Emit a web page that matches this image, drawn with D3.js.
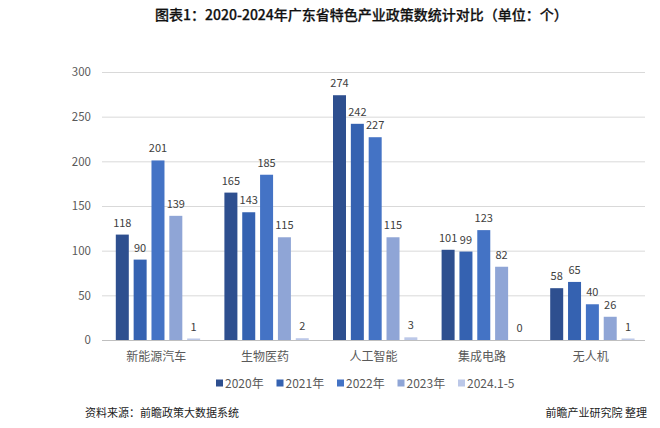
<!DOCTYPE html>
<html><head><meta charset="utf-8">
<script src="https://cdn.jsdelivr.net/npm/d3@7"></script>
<style>html,body{margin:0;padding:0;background:#fff;}svg{display:block;}</style>
</head><body>
<svg id="c" width="660" height="428"></svg>
<script>
const categories = ["新能源汽车","生物医药","人工智能","集成电路","无人机"];
const seriesNames = ["2020年","2021年","2022年","2023年","2024.1-5"];
const v2020 = [118,165,274,101,58];
const v2021 = [90,143,242,99,65];
const v2022 = [201,185,227,123,40];
const v2023 = [139,115,115,82,26];
const v2024 = [1,2,3,0,1];
const yTicks = [0,50,100,150,200,250,300];
const colors = ["#2E4F8F","#3562B1","#4473C5","#8FA5D6","#BCC8E8"];
const title = "图表1：2020-2024年广东省特色产业政策数统计对比（单位：个）";
const source = "资料来源：前瞻政策大数据系统";
const credit = "前瞻产业研究院 整理";

const series = [v2020,v2021,v2022,v2023,v2024];
const svg = d3.select("#c");
const font = "'Noto Sans CJK SC','Noto Sans',sans-serif";
const L=102, R=645, T=72, B=340;

const x = d3.scaleBand().domain(categories).range([L,R]);
const y = d3.scaleLinear().domain([0,300]).range([B,T]);
const barW = 13, step = 17;
const groupW = step*(seriesNames.length-1)+barW;
const x1 = d3.scaleBand().domain(seriesNames).range([0, groupW+(step-barW)]).paddingInner((step-barW)/step).paddingOuter(0);

// title
svg.append("text").attr("x",155).attr("y",20)
  .attr("font-family",font).attr("font-size",14).attr("font-weight",500)
  .attr("fill","#111").attr("stroke","#111").attr("stroke-width",0.25).text(title);

// gridlines & y labels
const yAxis = d3.axisLeft(y).tickValues(yTicks).tickSize(-(R-L)).tickPadding(11);
const ga = svg.append("g").attr("transform",`translate(${L},0)`).call(yAxis);
ga.select(".domain").remove();
ga.selectAll(".tick line").attr("stroke","#D9D9D9").attr("stroke-width",1);
ga.selectAll(".tick text").attr("font-family",font).attr("font-size",11.5).attr("fill","#595959");
ga.selectAll(".tick").filter(d=>d===0).select("line").attr("stroke","#BFBFBF");

// bars
const groups = svg.append("g").selectAll("g").data(categories).join("g")
  .attr("transform",d=>`translate(${x(d)+x.bandwidth()/2-groupW/2},0)`);
groups.each(function(cat,ci){
  const g = d3.select(this);
  seriesNames.forEach((s,si)=>{
    const val = series[si][ci];
    const bx = x1(s);
    const h = B-y(val);
    g.append("rect").attr("x",bx).attr("width",barW)
      .attr("y",val>0?Math.min(y(val),B-1.5):B).attr("height",val>0?Math.max(1.5,h):0)
      .attr("fill",colors[si]);
    g.append("text").attr("x",bx+barW/2).attr("y",y(val)-8)
      .attr("text-anchor","middle").attr("font-family",font).attr("font-size",11)
      .attr("fill","#404040").text(val);
  });
});

// x axis labels
const xAxis = d3.axisBottom(x).tickSize(0).tickPadding(12);
const gx = svg.append("g").attr("transform",`translate(0,${B})`).call(xAxis);
gx.select(".domain").remove();
gx.selectAll(".tick text").attr("font-family",font).attr("font-size",12).attr("fill","#595959");

// legend
const lx = d3.scalePoint().domain(seriesNames).range([216,458]);
const lg = svg.append("g").selectAll("g").data(seriesNames).join("g")
  .attr("transform",d=>`translate(${lx(d)},383)`);
lg.append("rect").attr("x",0).attr("y",-3.5).attr("width",7).attr("height",7).attr("fill",(d,i)=>colors[i]);
lg.append("text").attr("x",9).attr("y",4.5).attr("font-family",font).attr("font-size",12)
  .attr("fill","#595959").text(d=>d);

// footer
svg.append("text").attr("x",85).attr("y",417).attr("font-family",font).attr("font-size",11).attr("fill","#222").text(source);
svg.append("text").attr("x",647).attr("y",417).attr("text-anchor","end").attr("font-family",font).attr("font-size",11).attr("fill","#222").text(credit);
</script>
</body></html>
